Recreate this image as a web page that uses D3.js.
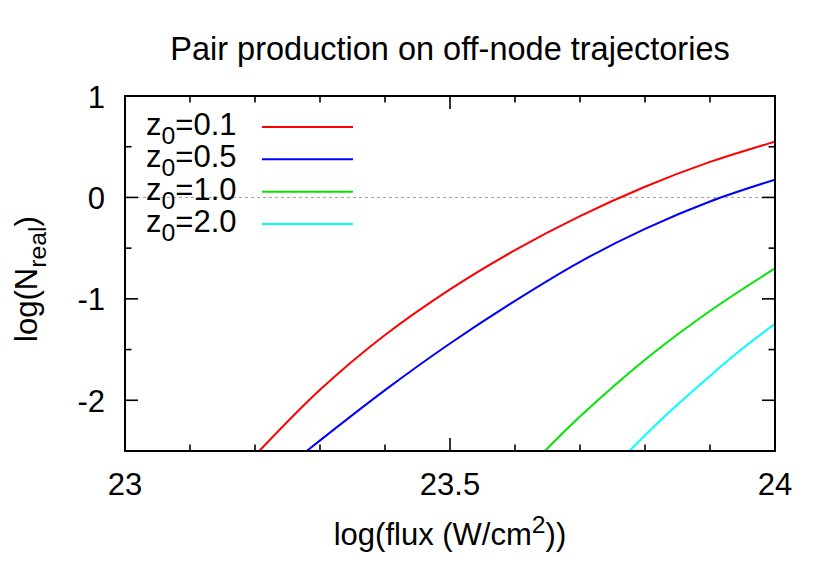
<!DOCTYPE html>
<html>
<head>
<meta charset="utf-8">
<script src="https://cdn.jsdelivr.net/npm/d3@7"></script>
<style>
  html, body { margin: 0; padding: 0; background: #fff; }
  svg { display: block; }
  text { font-family: "Liberation Sans", Arial, Helvetica, sans-serif; fill: #000; }
</style>
</head>
<body>
<svg id="chart" width="830" height="581"></svg>
<script>
// ---- data ----
const titleText = "Pair production on off-node trajectories";
const seriesNames = ["0.1", "0.5", "1.0", "2.0"];
const seriesColors = ["#ff0000", "#0000ff", "#00e600", "#00ffff"];

const fluxA = [23.2066, 23.30, 23.397, 23.5, 23.6, 23.7, 23.8, 23.9, 24.0];
const nA    = [-2.5, -1.897, -1.371, -0.906, -0.52, -0.185, 0.105, 0.35, 0.55];

const fluxB = [23.2795, 23.4, 23.5, 23.6, 23.7, 23.8, 23.9, 24.0];
const nB    = [-2.5, -1.90, -1.44, -1.02, -0.635, -0.31, -0.04, 0.175];

const fluxC = [23.646, 23.7, 23.8, 23.9, 24.0];
const nC    = [-2.5, -2.16, -1.60, -1.12, -0.70];

const fluxD = [23.776, 23.83, 23.9, 23.95, 24.0];
const nD    = [-2.5, -2.16, -1.76, -1.49, -1.245];

const xTickValues = [23.0, 23.1, 23.2, 23.3, 23.4, 23.5, 23.6, 23.7, 23.8, 23.9, 24.0];
const xTickLabels = ["23", "", "", "", "", "23.5", "", "", "", "", "24"];
const yTickValues = [1, 0.5, 0, -0.5, -1, -1.5, -2, -2.5];
const yTickLabels = ["1", "", "0", "", "-1", "", "-2", ""];

// ---- layout ----
const svg = d3.select("#chart");
const L = 125, R = 775, T = 96, B = 451;
const x = d3.scaleLinear().domain([23, 24]).range([L, R]);
const y = d3.scaleLinear().domain([-2.5, 1]).range([B, T]);
const FS = 31;

const series = [
  {flux: fluxA, n: nA},
  {flux: fluxB, n: nB},
  {flux: fluxC, n: nC},
  {flux: fluxD, n: nD}
];

// clip
svg.append("defs").append("clipPath").attr("id", "plotclip")
  .append("rect").attr("x", L).attr("y", T).attr("width", R - L).attr("height", B - T);

// zero line (dashed)
svg.append("line")
  .attr("x1", L).attr("x2", R).attr("y1", y(0)).attr("y2", y(0))
  .attr("stroke", "#a0a0a0").attr("stroke-width", 1).attr("stroke-dasharray", "3,3");

// curves
const line = d3.line().x(d => x(d[0])).y(d => y(d[1])).curve(d3.curveCatmullRom.alpha(0.5));
series.forEach((s, i) => {
  const pts = s.flux.map((f, j) => [f, s.n[j]]);
  svg.append("path").datum(pts)
    .attr("d", line)
    .attr("fill", "none")
    .attr("stroke", seriesColors[i])
    .attr("stroke-width", 2)
    .attr("clip-path", "url(#plotclip)");
});

// ticks (mirrored, inward)
const tickG = svg.append("g").attr("stroke", "#000").attr("stroke-width", 1.6);
xTickValues.forEach((v, i) => {
  const len = xTickLabels[i] !== "" ? 13 : 6.5;
  tickG.append("line").attr("x1", x(v)).attr("x2", x(v)).attr("y1", B).attr("y2", B - len);
  tickG.append("line").attr("x1", x(v)).attr("x2", x(v)).attr("y1", T).attr("y2", T + len);
});
yTickValues.forEach((v, i) => {
  const len = yTickLabels[i] !== "" ? 13 : 6.5;
  tickG.append("line").attr("x1", L).attr("x2", L + len).attr("y1", y(v)).attr("y2", y(v));
  tickG.append("line").attr("x1", R).attr("x2", R - len).attr("y1", y(v)).attr("y2", y(v));
});

// border
svg.append("rect").attr("x", L).attr("y", T).attr("width", R - L).attr("height", B - T)
  .attr("fill", "none").attr("stroke", "#000").attr("stroke-width", 2);

// tick labels
xTickValues.forEach((v, i) => {
  if (!xTickLabels[i]) return;
  svg.append("text").attr("x", x(v)).attr("y", 495)
    .attr("text-anchor", "middle").attr("font-size", FS).text(xTickLabels[i]);
});
yTickValues.forEach((v, i) => {
  if (!yTickLabels[i]) return;
  svg.append("text").attr("x", 105).attr("y", y(v) + 11.5)
    .attr("text-anchor", "end").attr("font-size", FS).text(yTickLabels[i]);
});

// title
svg.append("text").attr("x", 450).attr("y", 60).attr("text-anchor", "middle")
  .attr("font-size", 32.5).text(titleText);

// x label
const xl = svg.append("text").attr("x", 450).attr("y", 545).attr("text-anchor", "middle").attr("font-size", FS);
xl.append("tspan").text("log(flux (W/cm");
xl.append("tspan").attr("font-size", FS * 0.8).attr("dy", -12).text("2");
xl.append("tspan").attr("dy", 12).text("))");

// y label
const yl = svg.append("text").attr("transform", "translate(37,279) rotate(-90)")
  .attr("text-anchor", "middle").attr("font-size", FS);
yl.append("tspan").text("log(N");
yl.append("tspan").attr("font-size", FS * 0.8).attr("dy", 9).text("real");
yl.append("tspan").attr("dy", -9).text(")");

// legend
const legRows = [127, 159.3, 191.7, 224];
seriesNames.forEach((name, i) => {
  const t = svg.append("text").attr("x", 146).attr("y", legRows[i] + 8).attr("font-size", FS);
  t.append("tspan").text("z");
  t.append("tspan").attr("font-size", FS * 0.8).attr("dy", 9).text("0");
  t.append("tspan").attr("dy", -9).text("=" + name);
  svg.append("line").attr("x1", 262).attr("x2", 353).attr("y1", legRows[i]).attr("y2", legRows[i])
    .attr("stroke", seriesColors[i]).attr("stroke-width", 2);
});
</script>
</body>
</html>
